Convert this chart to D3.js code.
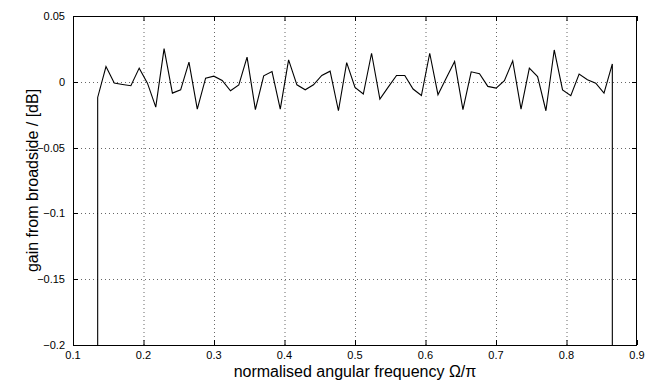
<!DOCTYPE html>
<html><head><meta charset="utf-8">
<script src="https://cdn.jsdelivr.net/npm/d3@7"></script>
<style>body{margin:0;background:#fff}svg{display:block}text{font-family:"Liberation Sans",Arial,Helvetica,sans-serif}</style>
</head><body>
<script>
const freq = [0.1350,0.1468,0.1585,0.1703,0.1821,0.1939,0.2056,0.2174,0.2292,0.2410,
0.2527,0.2645,0.2763,0.2881,0.2998,0.3116,0.3234,0.3352,0.3469,0.3587,
0.3705,0.3823,0.3940,0.4058,0.4176,0.4294,0.4411,0.4529,0.4647,0.4765,
0.4882,0.5000,0.5118,0.5235,0.5353,0.5471,0.5589,0.5706,0.5824,0.5942,
0.6060,0.6177,0.6295,0.6413,0.6531,0.6648,0.6766,0.6884,0.7002,0.7119,
0.7237,0.7355,0.7473,0.7590,0.7708,0.7826,0.7944,0.8061,0.8179,0.8297,
0.8415,0.8532,0.8650];
const gain = [-0.0119,0.0116,-0.0010,-0.0020,-0.0030,0.0104,-0.0010,-0.0192,0.0252,-0.0086,
-0.0061,0.0149,-0.0207,0.0028,0.0043,0.0010,-0.0068,-0.0023,0.0187,-0.0212,
0.0045,0.0078,-0.0207,0.0167,-0.0023,-0.0061,-0.0023,0.0048,0.0081,-0.0220,
0.0146,-0.0043,-0.0093,0.0217,-0.0131,-0.0040,0.0048,0.0048,-0.0055,-0.0104,
0.0217,-0.0098,0.0028,0.0154,-0.0212,0.0076,0.0061,-0.0035,-0.0048,0.0008,
0.0159,-0.0207,0.0104,0.0040,-0.0220,0.0242,-0.0061,-0.0106,0.0058,0.0015,
-0.0010,-0.0086,0.0136];
// band edges: gain drops far below the axis floor
const edgeGain = -1;
const xTicks = [0.1,0.2,0.3,0.4,0.5,0.6,0.7,0.8,0.9];
const yTicks = [0.05,0,-0.05,-0.1,-0.15,-0.2];
const yTickLabels = ["0.05","0","\u22120.05","\u22120.1","\u22120.15","\u22120.2"];
const xLabel = "normalised angular frequency \u03A9/\u03C0";
const yLabel = "gain from broadside / [dB]";

const W=664,H=380, L=73,R=637,T=16,B=345;
const x=d3.scaleLinear().domain([0.1,0.9]).range([L,R]);
const y=d3.scaleLinear().domain([-0.2,0.05]).range([B,T]);
const svg=d3.select("body").append("svg").attr("width",W).attr("height",H);

// grid
const g=svg.append("g").attr("stroke","#000").attr("stroke-width",0.6).attr("stroke-dasharray","1,3");
g.selectAll(".gx").data(xTicks.slice(1,-1)).join("line")
 .attr("x1",d=>x(d)+0.5).attr("x2",d=>x(d)+0.5).attr("y1",T).attr("y2",B);
g.selectAll(".gy").data(yTicks.slice(1,-1)).join("line")
 .attr("y1",d=>Math.round(y(d))+0.5).attr("y2",d=>Math.round(y(d))+0.5).attr("x1",L).attr("x2",R);

// data line
svg.append("clipPath").attr("id","clip").append("rect").attr("x",L).attr("y",T).attr("width",R-L).attr("height",B-T);
const pts=[[freq[0],edgeGain]].concat(freq.map((f,i)=>[f,gain[i]])).concat([[freq[freq.length-1],edgeGain]]);
svg.append("path").attr("clip-path","url(#clip)").datum(pts)
 .attr("fill","none").attr("stroke","#000").attr("stroke-width",1.1)
 .attr("d",d3.line().x(d=>x(d[0])).y(d=>y(d[1])));

// axes box & ticks
const ax=svg.append("g").attr("stroke","#000").attr("stroke-width",1).attr("fill","none");
ax.append("rect").attr("x",L+0.5).attr("y",T+0.5).attr("width",R-L-1).attr("height",B-T);
const tl=5;
xTicks.forEach(t=>{const px=x(t)+0.5;
 ax.append("line").attr("x1",px).attr("x2",px).attr("y1",B).attr("y2",B-tl);
 ax.append("line").attr("x1",px).attr("x2",px).attr("y1",T).attr("y2",T+tl);});
yTicks.forEach(t=>{const py=Math.round(y(t))+0.5;
 ax.append("line").attr("x1",L).attr("x2",L+tl).attr("y1",py).attr("y2",py);
 ax.append("line").attr("x1",R).attr("x2",R-tl).attr("y1",py).attr("y2",py);});

// tick labels
svg.selectAll(".xt").data(xTicks).join("text").attr("x",d=>x(d)).attr("y",359)
 .attr("text-anchor","middle").attr("font-size",11).text(d=>d3.format(".1f")(d));
svg.selectAll(".yt").data(yTicks).join("text").attr("x",L-8).attr("y",d=>y(d)+4)
 .attr("text-anchor","end").attr("font-size",11).text((d,i)=>yTickLabels[i]);

// axis labels
svg.append("text").attr("x",(L+R)/2).attr("y",376.5).attr("text-anchor","middle").attr("font-size",16).text(xLabel);
svg.append("text").attr("transform",`translate(38,${(T+B)/2}) rotate(-90)`).attr("text-anchor","middle").attr("font-size",16).text(yLabel);
</script>
</body></html>
